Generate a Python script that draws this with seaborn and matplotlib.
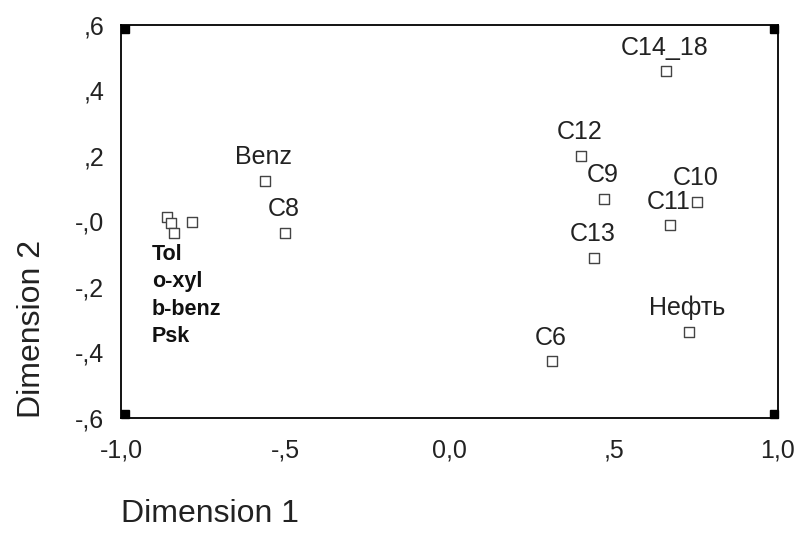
import matplotlib
matplotlib.use("Agg")
import matplotlib.pyplot as plt
import matplotlib.transforms as mtransforms
import numpy as np
import pandas as pd
import seaborn as sns

# MDS coordinates
labels = ['Benz', 'C8', 'Tol', 'o-xyl', 'b-benz', 'Psk', 'C14_18', 'C12',
          'C9', 'C10', 'C11', 'C13', 'C6', 'Нефть']
dim1 = [-0.562, -0.500, -0.860, -0.848, -0.839, -0.784, 0.659, 0.400,
        0.470, 0.753, 0.671, 0.440, 0.312, 0.729]
dim2 = [0.125, -0.034, 0.015, -0.006, -0.034, -0.003, 0.458, 0.200,
        0.070, 0.061, -0.012, -0.110, -0.427, -0.336]
# these four sit on top of each other, so they get one stacked label
cluster = ['Tol', 'o-xyl', 'b-benz', 'Psk']

xticks = [-1.0, -0.5, 0.0, 0.5, 1.0]
xticklabels = ['-1,0', '-,5', '0,0', ',5', '1,0']
yticks = [0.6, 0.4, 0.2, 0.0, -0.2, -0.4, -0.6]
yticklabels = [',6', ',4', ',2', '-,0', '-,2', '-,4', '-,6']

df = pd.DataFrame({'label': labels, 'dim1': dim1, 'dim2': dim2})

sns.set_style('white')
plt.rcParams['font.family'] = ['Liberation Sans', 'DejaVu Sans']

fig = plt.figure(figsize=(7.99, 5.42), dpi=100)
ax = fig.add_axes([0.1514, 0.2288, 0.8223, 0.7251])

sns.scatterplot(data=df, x='dim1', y='dim2', ax=ax, marker='s', s=45,
                facecolor='white', edgecolor='#444444', linewidth=1.0,
                zorder=3, clip_on=False)

# labels above the single points
for _, row in df[~df['label'].isin(cluster)].iterrows():
    ax.annotate(row['label'], (row['dim1'], row['dim2']),
                xytext=(-1, 12), textcoords='offset points',
                ha='center', va='baseline', fontsize=18, color='#222222')

# stacked bold label for the cluster
cl = df[df['label'].isin(cluster)]
ax.annotate('\n'.join(cluster), (cl['dim1'].min(), cl['dim2'].min()),
            xytext=(-11, -8), textcoords='offset points',
            ha='left', va='top', fontsize=15.5, fontweight='bold',
            color='#111111', linespacing=1.4)

ax.set_xlim(-1.0, 1.0)
ax.set_ylim(-0.6, 0.6)
ax.set_xticks(xticks)
ax.set_xticklabels(xticklabels)
ax.set_yticks(yticks)
ax.set_yticklabels(yticklabels)
ax.tick_params(axis='both', direction='out', length=4, width=1.6,
               color='black', labelsize=18, labelcolor='#222222')
ax.tick_params(axis='x', pad=11)
ax.tick_params(axis='y', pad=8)

for side in ['left', 'right', 'top', 'bottom']:
    ax.spines[side].set_visible(True)
    ax.spines[side].set_color('black')
    ax.spines[side].set_linewidth(1.3)

ax.set_xlabel('Dimension 1', fontsize=23, loc='left', labelpad=26, color='#222222')
ax.set_ylabel('Dimension 2', fontsize=23, loc='bottom', labelpad=20, color='#222222')

# little black squares in the corners, as in the original
for cx, cy, dx, dy in [(0, 0, 1, 1), (1, 0, -1, 1), (0, 1, 1, -1), (1, 1, -1, -1)]:
    tr = mtransforms.offset_copy(ax.transAxes, fig=fig, x=dx * 3.2, y=dy * 3.2,
                                 units='points')
    ax.plot([cx], [cy], marker='s', markersize=6.4, color='black',
            transform=tr, clip_on=False, zorder=4)

fig.savefig('out.png', dpi=100)
